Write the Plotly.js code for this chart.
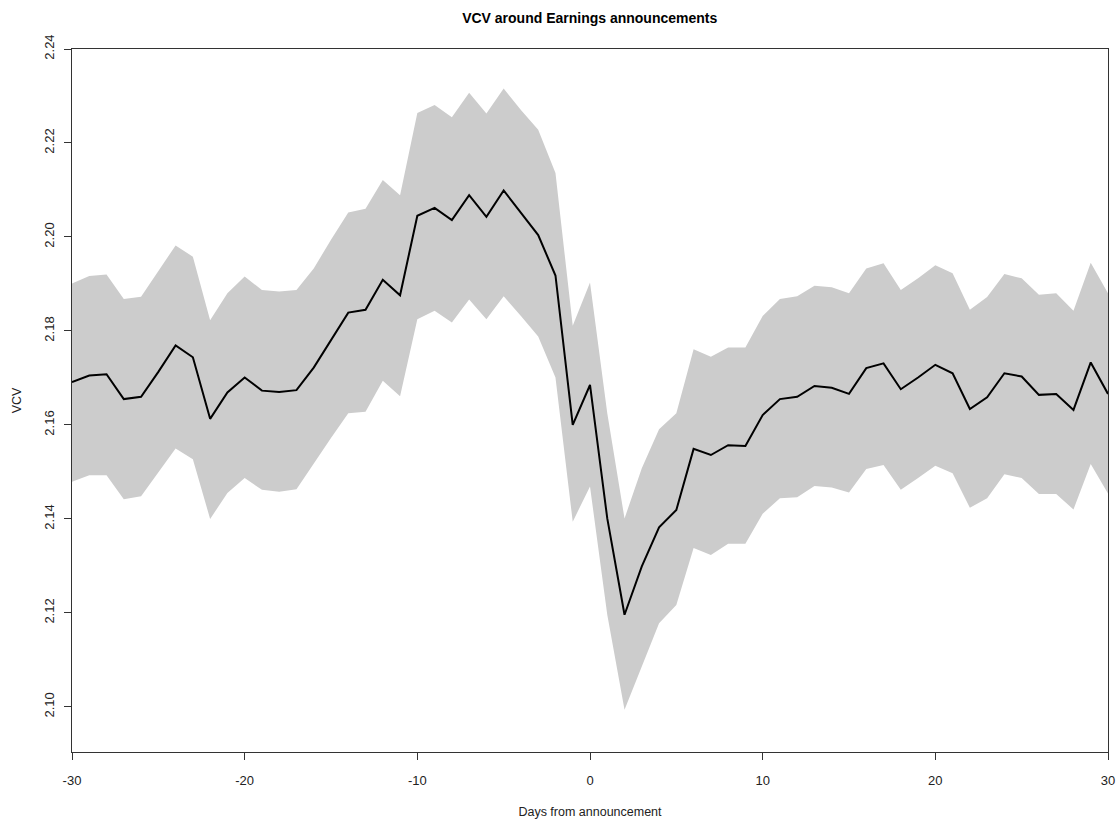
<!DOCTYPE html>
<html>
<head>
<meta charset="utf-8">
<script src="https://cdn.plot.ly/plotly-3.0.1.min.js"></script>
<style>html,body{margin:0;padding:0;background:#fff;}#chart{width:1119px;height:819px;}</style>
</head>
<body>
<div id="chart"></div>
<script>
const days = [-30,-29,-28,-27,-26,-25,-24,-23,-22,-21,-20,-19,-18,-17,-16,-15,-14,-13,-12,-11,-10,-9,-8,-7,-6,-5,-4,-3,-2,-1,0,1,2,3,4,5,6,7,8,9,10,11,12,13,14,15,16,17,18,19,20,21,22,23,24,25,26,27,28,29,30];

const vcvMean = [2.1691,2.1705,2.1708,2.1655,2.1660,2.1713,2.1769,2.1744,2.1613,2.1669,
  2.1701,2.1673,2.1670,2.1674,2.1722,2.1781,2.1839,2.1845,2.1909,2.1876,
  2.2045,2.2062,2.2036,2.2089,2.2043,2.2099,2.2052,2.2004,2.1918,2.1600,
  2.1685,2.1401,2.1196,2.1299,2.1382,2.1419,2.1549,2.1536,2.1557,2.1555,
  2.1621,2.1655,2.1660,2.1683,2.1679,2.1666,2.1721,2.1731,2.1676,2.1701,
  2.1728,2.1710,2.1634,2.1659,2.1710,2.1703,2.1664,2.1666,2.1632,2.1733,2.1666];

const vcvUpper = [2.1901,2.1917,2.1920,2.1868,2.1873,2.1928,2.1982,2.1958,2.1823,2.1880,
  2.1916,2.1887,2.1884,2.1887,2.1933,2.1994,2.2052,2.2060,2.2121,2.2089,
  2.2264,2.2281,2.2255,2.2307,2.2263,2.2316,2.2270,2.2228,2.2136,2.1811,
  2.1903,2.1625,2.1401,2.1508,2.1591,2.1625,2.1761,2.1745,2.1765,2.1765,
  2.1832,2.1868,2.1874,2.1896,2.1893,2.1880,2.1933,2.1944,2.1887,2.1912,
  2.1940,2.1923,2.1845,2.1872,2.1921,2.1912,2.1877,2.1880,2.1843,2.1945,2.1880];

const vcvLower = [2.1479,2.1493,2.1493,2.1442,2.1448,2.1499,2.1550,2.1527,2.1400,2.1455,
  2.1487,2.1462,2.1458,2.1463,2.1518,2.1572,2.1625,2.1628,2.1694,2.1661,
  2.1825,2.1843,2.1818,2.1867,2.1825,2.1874,2.1832,2.1788,2.1701,2.1394,
  2.1469,2.1196,2.0994,2.1084,2.1178,2.1217,2.1338,2.1323,2.1347,2.1347,
  2.1411,2.1444,2.1446,2.1470,2.1467,2.1456,2.1506,2.1515,2.1462,2.1487,
  2.1513,2.1497,2.1424,2.1444,2.1495,2.1487,2.1453,2.1453,2.1420,2.1517,2.1454];

const xTicks = [-30,-20,-10,0,10,20,30];
const yTicks = [2.10,2.12,2.14,2.16,2.18,2.20,2.22,2.24];

const fnt = "Liberation Sans, Arial, sans-serif";

const traces = [
  {x: days, y: vcvUpper, type: 'scatter', mode: 'lines', line: {width: 0, color: 'rgba(0,0,0,0)'}, hoverinfo: 'skip', showlegend: false},
  {x: days, y: vcvLower, type: 'scatter', mode: 'lines', line: {width: 0, color: 'rgba(0,0,0,0)'}, fill: 'tonexty', fillcolor: '#cccccc', hoverinfo: 'skip', showlegend: false},
  {x: days, y: vcvMean, type: 'scatter', mode: 'lines', line: {width: 2, color: '#000000'}, showlegend: false}
];

const layout = {
  width: 1119, height: 819,
  margin: {l: 72, r: 11, t: 49, b: 67},
  paper_bgcolor: '#ffffff', plot_bgcolor: '#ffffff',
  font: {family: fnt, size: 12, color: '#222'},
  title: {text: '<b>VCV around Earnings announcements</b>', font: {family: fnt, size: 14, color: '#000'}, x: 0.527, xanchor: 'center', y: 0.978, yanchor: 'middle'},
  xaxis: {
    range: [-30, 30], tickvals: xTicks, ticktext: xTicks.map(String),
    showgrid: false, zeroline: false, showline: true, mirror: true, linecolor: '#333', linewidth: 1,
    ticks: 'outside', ticklen: 7, tickcolor: '#333', ticklabelstandoff: 9,
    tickfont: {family: fnt, size: 13, color: '#222'},
    title: {text: 'Days from announcement', font: {family: fnt, size: 12.5, color: '#222'}, standoff: 24}
  },
  yaxis: {
    range: [2.0904, 2.24], tickvals: yTicks, ticktext: yTicks.map(v => v.toFixed(2)),
    showgrid: false, zeroline: false, showline: true, mirror: true, linecolor: '#333', linewidth: 1,
    ticks: 'outside', ticklen: 7, tickcolor: '#333', tickangle: -90, ticklabelstandoff: 5,
    tickfont: {family: fnt, size: 13, color: '#222'},
    title: {text: 'VCV', font: {family: fnt, size: 12.5, color: '#222'}, standoff: 17}
  }
};

Plotly.newPlot('chart', traces, layout, {displayModeBar: false, staticPlot: true});
</script>
</body>
</html>
